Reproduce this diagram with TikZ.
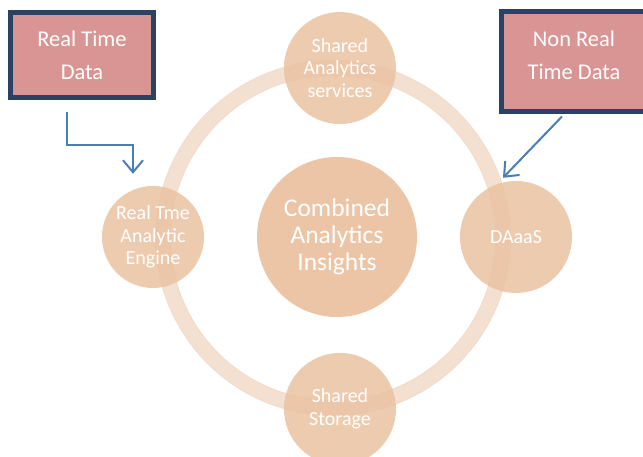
\documentclass[tikz,border=0pt]{standalone}
\usepackage{fontspec}
\setmainfont{Carlito}
\usepackage{tikz}
\usetikzlibrary{arrows.meta,calc}
\definecolor{peach}{HTML}{EAC2A1}
\definecolor{peachring}{HTML}{F4E0D0}
\definecolor{peachedge}{HTML}{E6C0A0}
\definecolor{rosefill}{HTML}{D99594}
\definecolor{navyedge}{HTML}{2A4365}
\definecolor{linkblue}{HTML}{4A7EBB}

\tikzset{
  sat/.style={circle,fill=peach,fill opacity=0.85,text opacity=1,text=white,
    minimum size=112pt,inner sep=0pt,align=center,
    font=\fontsize{20}{22.5}\selectfont},
  hub/.style={sat,minimum size=160pt,fill opacity=0.95,
    font=\fontsize{25.5}{27}\selectfont},
  srcbox/.style={rectangle,draw=navyedge,line width=5pt,fill=rosefill,
    text=white,align=center,inner sep=0pt,
    font=\fontsize{22.5}{33}\selectfont},
  link/.style={linkblue,line width=2pt,
    -{Straight Barb[length=12pt,width=20pt]}}
}

\begin{document}
\begin{tikzpicture}[x=1pt,y=1pt]
  \clip (-337,-220) rectangle (306,237);
  \fill[white] (-337,-220) rectangle (306,237);
  % ring
  \draw[peachring,line width=15pt] (-4,-1) circle (170);
  \draw[peachedge!60,line width=0.6pt] (-4,-1) circle (162.5);
  \draw[peachedge!60,line width=0.6pt] (-4,-1) circle (177.5);
  \node[hub] (cai) at (0,0) {Combined\\Analytics\\Insights};
  \foreach \ang/\rad/\nm/\txt in {89/169/sas/{Shared\\Analytics\\services},
      -89/172/shs/{Shared\\Storage},
      0/179/dae/{DAaaS}}{
    \node[sat] (\nm) at (\ang:\rad) {\txt};
  }
  \node[sat,minimum size=102pt] (rte) at (180:184) {Real Tme\\Analytic\\Engine};
  \node[srcbox,minimum width=143pt,minimum height=85pt] (rt) at (-255,182)
    {Real Time\\Data};
  \node[srcbox,minimum width=146pt,minimum height=100pt] (nrt) at (237,175)
    {\raisebox{0pt}[\height][\dimexpr\depth+12pt]{\begin{tabular}{@{}c@{}}Non Real\\Time Data\end{tabular}}};
  \draw[link] ([shift={(-15pt,-12pt)}]rt.south) -- ++(0,-33) -| ([shift={(-20pt,12pt)}]rte.north);
  \draw[link] ([shift={(-12pt,-2pt)}]nrt.south) -- ([shift={(-13pt,3pt)}]dae.north);
\end{tikzpicture}
\end{document}
